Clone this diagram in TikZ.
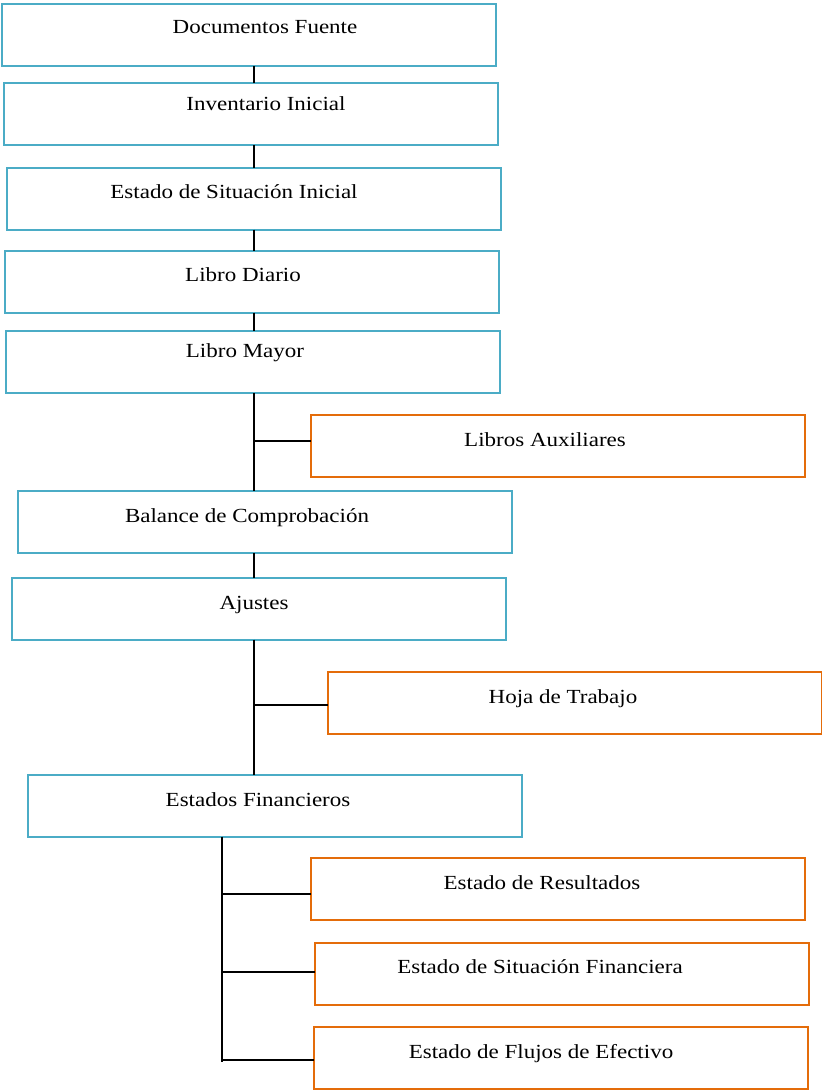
\documentclass[tikz,border=0pt]{standalone}
\usepackage{fontspec}
\setmainfont[FakeStretch=1.15]{Liberation Serif}
\definecolor{bluebox}{HTML}{4BACC6}
\definecolor{orangebox}{HTML}{E46C0A}
\begin{document}
\begin{tikzpicture}[x=1pt,y=-1pt,
  bbox/.style={draw=bluebox,line width=2pt,rectangle,inner sep=0pt,outer sep=0pt,minimum width=494pt,minimum height=62pt},
  obox/.style={draw=orangebox,line width=2pt,rectangle,inner sep=0pt,outer sep=0pt,minimum width=494pt,minimum height=62pt},
  txt/.style={anchor=base,inner sep=0pt,font=\fontsize{20}{24}\selectfont},
  conn/.style={draw=black,line width=2pt}]
\useasboundingbox (0,0) rectangle (822,1090);
% boxes
\node[bbox] (n1) at (249,35) {};
\node[bbox] (n2) at (250.5,114) {};
\node[bbox] (n3) at (253.5,198.5) {};
\node[bbox] (n4) at (251.5,281.5) {};
\node[bbox] (n5) at (253,362) {};
\node[obox] (n6) at (557.5,445.5) {};
\node[bbox] (n7) at (265,522) {};
\node[bbox] (n8) at (259,608.5) {};
\node[obox] (n9) at (574.5,702.5) {};
\node[bbox] (n10) at (275,805.5) {};
\node[obox] (n11) at (557.5,889) {};
\node[obox] (n12) at (561.5,973.5) {};
\node[obox] (n13) at (560.5,1058) {};
% texts
\node[txt] (t1) at (265,33) {Documentos Fuente};
\node[txt] (t2) at (266,110) {Inventario Inicial};
\node[txt] (t3) at (234,198) {Estado de Situación Inicial};
\node[txt] (t4) at (243,281) {Libro Diario};
\node[txt] (t5) at (245,357) {Libro Mayor};
\node[txt] (t6) at (545,446) {Libros Auxiliares};
\node[txt] (t7) at (247,522) {Balance de Comprobación};
\node[txt] (t8) at (254,609) {Ajustes};
\node[txt] (t9) at (563,703) {Hoja de Trabajo};
\node[txt] (t10) at (258,806) {Estados Financieros};
\node[txt] (t11) at (542,889) {Estado de Resultados};
\node[txt] (t12) at (540,973) {Estado de Situación Financiera};
\node[txt] (t13) at (541,1058) {Estado de Flujos de Efectivo};
% connectors
\coordinate (spine) at (254,0);
\coordinate (spineb) at (222,0);
\draw[conn] (n1.south -| spine) -- (n2.north -| spine);
\draw[conn] (n2.south -| spine) -- (n3.north -| spine);
\draw[conn] (n3.south -| spine) -- (n4.north -| spine);
\draw[conn] (n4.south -| spine) -- (n5.north -| spine);
\draw[conn] (n5.south -| spine) -- (n7.north -| spine);
\coordinate (y1) at (0,441);
\draw[conn] (spine |- y1) -- (n6.west |- y1);
\draw[conn] (n7.south -| spine) -- (n8.north -| spine);
\draw[conn] (n8.south -| spine) -- (n10.north -| spine);
\coordinate (y2) at (0,705);
\draw[conn] (spine |- y2) -- (n9.west |- y2);
\coordinate (j5) at (222,1062);
\draw[conn] (n10.south -| spineb) -- (j5);
\coordinate (y3) at (0,894);
\coordinate (y4) at (0,972);
\coordinate (y5) at (0,1060);
\draw[conn] (spineb |- y3) -- (n11.west |- y3);
\draw[conn] (spineb |- y4) -- (n12.west |- y4);
\draw[conn] (spineb |- y5) -- (n13.west |- y5);
\end{tikzpicture}
\end{document}
